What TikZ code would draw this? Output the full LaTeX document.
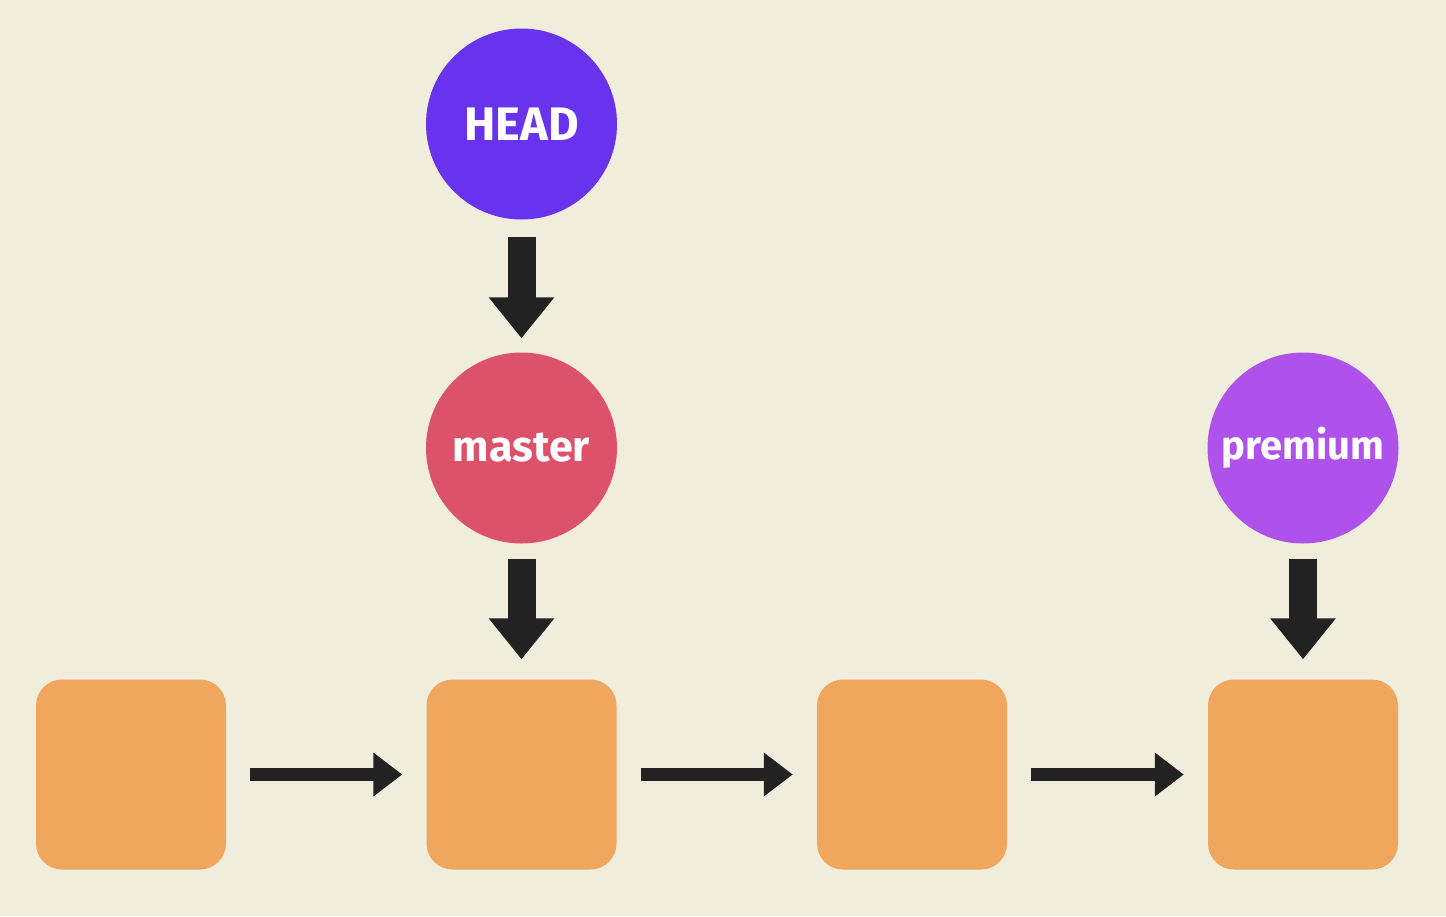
\documentclass[tikz,border=0pt]{standalone}
\usepackage{fontspec}
\setsansfont{Fira Sans}
\usetikzlibrary{arrows.meta}
\definecolor{bg}{HTML}{F0EDDC}
\definecolor{commit}{HTML}{F0A65C}
\definecolor{headc}{HTML}{6933EE}
\definecolor{masterc}{HTML}{DC526A}
\definecolor{premc}{HTML}{AF52EB}
\definecolor{arr}{HTML}{222222}
\tikzset{
  commitbox/.style={fill=commit, rounded corners=26pt, minimum width=190pt, minimum height=190pt, inner sep=0pt},
  refcircle/.style={circle, minimum size=191pt, inner sep=0pt, text=white, font=\sffamily\bfseries\fontsize{40}{44}\selectfont},
  bigarrow/.style={draw=arr, line width=28pt, -{Triangle[length=41pt,width=63pt]}, arr},
  smallarrow/.style={draw=arr, line width=13pt, -{Triangle[length=29pt,width=42pt]}, arr},
}
\begin{document}
\begin{tikzpicture}[x=1pt,y=-1pt]
\fill[bg] (0,0) rectangle (1446,916);
\useasboundingbox (0,0) rectangle (1446,916);
\node[commitbox] (c1) at (131,774.5) {};
\node[commitbox] (c2) at (521.5,774.5) {};
\node[commitbox] (c3) at (912,774.5) {};
\node[commitbox] (c4) at (1303,774.5) {};
\node[refcircle, fill=headc, font=\sffamily\bfseries\fontsize{47}{50}\selectfont] (head) at (521.5,124) {HEAD};
\node[refcircle, fill=masterc, font=\sffamily\bfseries\fontsize{43}{46}\selectfont] (master) at (521.5,448) {master};
\node[refcircle, fill=premc] (premium) at (1303,448) {premium};
\draw[bigarrow, shorten <=17pt, shorten >=14pt] (head) -- (master);
\draw[bigarrow, shorten <=15pt, shorten >=20pt] (master) -- (c2);
\draw[bigarrow, shorten <=15pt, shorten >=20pt] (premium) -- (c4);
\draw[smallarrow, shorten <=24pt, shorten >=24pt] (c1) -- (c2);
\draw[smallarrow, shorten <=24pt, shorten >=24pt] (c2) -- (c3);
\draw[smallarrow, shorten <=24pt, shorten >=24pt] (c3) -- (c4);
\end{tikzpicture}
\end{document}
